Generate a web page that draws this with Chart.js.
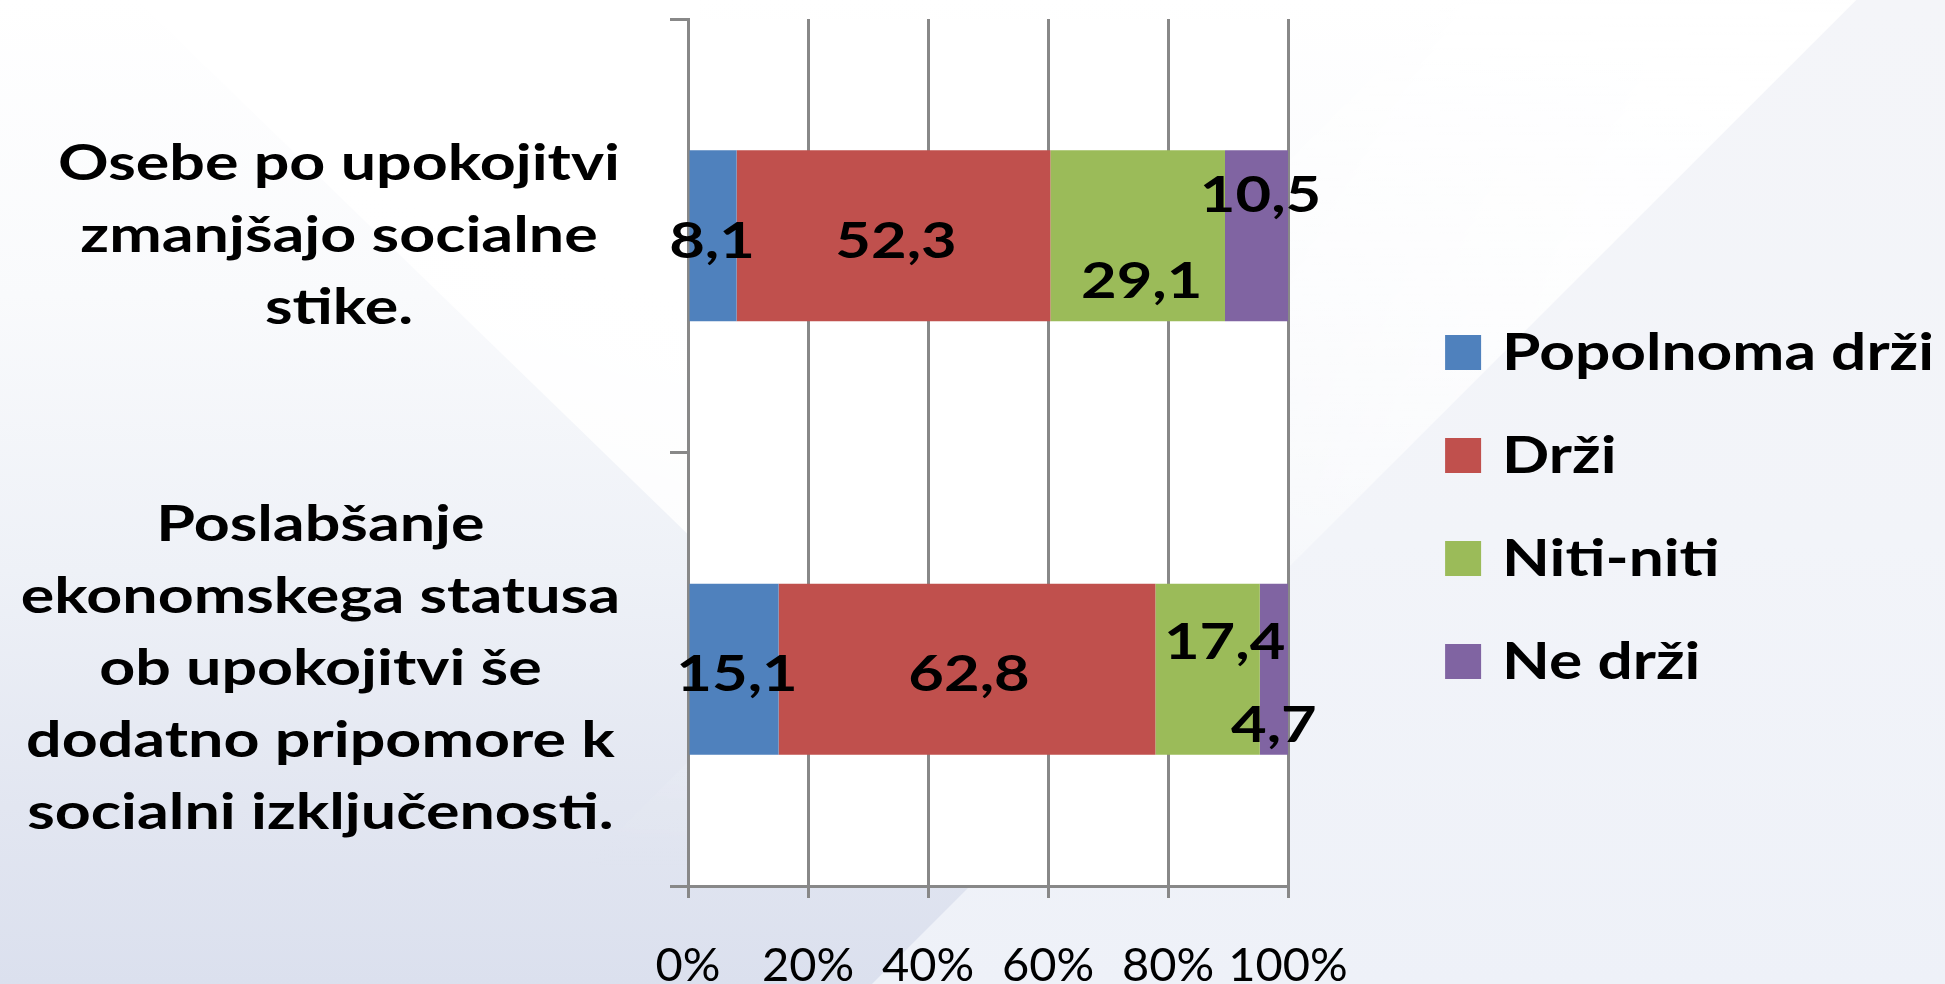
<!DOCTYPE html>
<html>
<head>
<meta charset="utf-8">
<script src="https://cdn.jsdelivr.net/npm/chart.js@4/dist/chart.umd.min.js"></script>
<style>
  html, body { margin: 0; padding: 0; }
  body {
    width: 1945px; height: 984px; overflow: hidden; position: relative;
    background: linear-gradient(180deg, #ffffff 0%, #f9fafc 30%, #eef1f7 58%, #e2e6f1 82%, #dbe0ee 100%);
  }
  .bg { position: absolute; left: 0; top: 0; width: 1945px; height: 984px; }
  .wedgeR {
    clip-path: polygon(1856px 0, 1945px 0, 1945px 984px, 872px 984px);
    background: linear-gradient(180deg, #f4f5f9 0%, #f2f4f9 55%, #eef1f8 100%);
  }
  .bandR {
    clip-path: polygon(1450px 0, 1856px 0, 872px 984px, 466px 984px);
    background: linear-gradient(180deg, rgba(255,255,255,1) 0%, rgba(255,255,255,0.75) 50%, rgba(255,255,255,0) 88%);
    -webkit-mask-image: linear-gradient(135deg, rgba(0,0,0,0) 28%, rgba(0,0,0,1) 72%);
    mask-image: linear-gradient(135deg, rgba(0,0,0,0) 28%, rgba(0,0,0,1) 72%);
  }
  .wedgeL {
    clip-path: polygon(137px 0, 700px 0, 700px 546px);
    background: linear-gradient(200deg, #ffffff 45%, rgba(255,255,255,0.3) 100%);
  }
  canvas { position: absolute; left: 0; top: 0; }
</style>
</head>
<body>
<div class="bg wedgeR"></div>
<div class="bg bandR"></div>
<div class="bg wedgeL"></div>
<canvas id="c" width="1945" height="984"></canvas>
<script>
// ---- data ----
const categories = [
  ["Osebe po upokojitvi", "zmanjšajo socialne", "stike."],
  ["Poslabšanje", "ekonomskega statusa", "ob upokojitvi še", "dodatno pripomore k", "socialni izključenosti."]
];
const seriesNames = ["Popolnoma drži", "Drži", "Niti-niti", "Ne drži"];
const popolnomaDrzi = [8.1, 15.1];
const drzi = [52.3, 62.8];
const nitiNiti = [29.1, 17.4];
const neDrzi = [10.5, 4.7];
const xTickValues = [0, 20, 40, 60, 80, 100];
const seriesColors = ["#4F81BD", "#C0504D", "#9BBB59", "#8064A2"];

// ---- presentation settings ----
const PLOT_RIGHT = 1288;
const AXIS_COLOR = "#888888";
const BOLD_STRETCH = 1.255;   // original text is a horizontally widened Calibri-like bold face
// data label nudges [dx, dy] per series, per category (staggering as in original)
const labelNudges = [
  [[-1, 6.5], [3, 6]],
  [[2.5, 6.5], [2, 6]],
  [[4, 46.5], [17, -26]],
  [[4, -39.5], [0, 57]]
];

const seriesValues = [popolnomaDrzi, drzi, nitiNiti, neDrzi];

function stretchedText(ctx, text, x, y, sx, align) {
  ctx.save();
  ctx.translate(x, y);
  ctx.scale(sx, 1);
  ctx.textAlign = align;
  ctx.fillText(text, 0, 0);
  ctx.restore();
}

const plotBg = {
  id: 'plotBg',
  beforeDraw(chart) {
    const { ctx, chartArea: a } = chart;
    ctx.save();
    ctx.fillStyle = '#ffffff';
    ctx.fillRect(a.left, a.top, a.right - a.left, a.bottom - a.top);
    ctx.restore();
  }
};

const catLabels = {
  id: 'catLabels',
  afterDraw(chart) {
    const ctx = chart.ctx;
    const ys = chart.scales.y;
    const lh = 72;
    ctx.save();
    ctx.font = 'bold 50px Lato';
    ctx.fillStyle = '#000';
    ctx.textBaseline = 'middle';
    const right = ys.right - 68;
    categories.forEach((lines, i) => {
      const cy = ys.getPixelForValue(i);
      const w = Math.max(...lines.map(l => ctx.measureText(l).width)) * BOLD_STRETCH;
      const cx = right - w / 2;
      const y0 = cy - (lines.length - 1) / 2 * lh;
      lines.forEach((l, j) => stretchedText(ctx, l, cx, y0 + j * lh, BOLD_STRETCH, 'center'));
    });
    ctx.restore();
  }
};

const valueLabels = {
  id: 'valueLabels',
  afterDatasetsDraw(chart) {
    const ctx = chart.ctx;
    ctx.save();
    ctx.font = 'bold 49px Lato';
    ctx.fillStyle = '#000';
    ctx.textBaseline = 'middle';
    chart.data.datasets.forEach((ds, k) => {
      const meta = chart.getDatasetMeta(k);
      meta.data.forEach((bar, i) => {
        const p = bar.getProps(['x', 'y', 'base'], true);
        const cx = (p.x + p.base) / 2 + labelNudges[k][i][0];
        const cy = p.y + labelNudges[k][i][1];
        stretchedText(ctx, ds.data[i].toFixed(1).replace('.', ','), cx, cy, BOLD_STRETCH, 'center');
      });
    });
    ctx.restore();
  }
};

// legend texts: the library lays the legend out; the text is drawn widened like the original
const legendText = {
  id: 'legendText',
  afterDraw(chart) {
    const lg = chart.legend;
    if (!lg || !lg.legendHitBoxes) return;
    const ctx = chart.ctx;
    const bw = lg.options.labels.boxWidth;
    ctx.save();
    ctx.font = 'bold 51px Lato';
    ctx.fillStyle = '#000';
    ctx.textBaseline = 'middle';
    lg.legendItems.forEach((item, i) => {
      const hb = lg.legendHitBoxes[i];
      stretchedText(ctx, item.text, hb.left + bw + 21, hb.top + hb.height / 2 + 1, 1.22, 'left');
    });
    ctx.restore();
  }
};

function build() {
  new Chart(document.getElementById('c'), {
    type: 'bar',
    data: {
      labels: categories,
      datasets: seriesNames.map((n, k) => ({
        label: n,
        data: seriesValues[k],
        backgroundColor: seriesColors[k],
        borderWidth: 0,
        barPercentage: 0.3945,
        categoryPercentage: 1
      }))
    },
    options: {
      indexAxis: 'y',
      responsive: false,
      animation: false,
      devicePixelRatio: 1,
      layout: { padding: { top: 19, left: 0, right: 0, bottom: 0 } },
      scales: {
        x: {
          stacked: true, min: 0, max: 100, position: 'bottom',
          afterBuildTicks: s => { s.ticks = xTickValues.map(v => ({ value: v })); },
          ticks: {
            callback: v => v + '%', color: '#000', padding: 40,
            font: { family: 'Lato', size: 47 }, maxRotation: 0, autoSkip: false
          },
          grid: { color: AXIS_COLOR, lineWidth: 3, tickLength: 12 },
          border: { color: AXIS_COLOR, width: 3 },
          afterFit: s => { s.height = 98; }
        },
        y: {
          stacked: true, position: 'left',
          ticks: { display: false },
          grid: { offset: true, drawOnChartArea: false, tickLength: 18, color: AXIS_COLOR, lineWidth: 3 },
          border: { color: AXIS_COLOR, width: 3 },
          afterFit: s => { s.width = 688; }
        },
        gap: {
          type: 'linear', position: 'right', display: true,
          grid: { display: false }, border: { display: false }, ticks: { display: false },
          afterFit: s => {
            const lg = s.chart.legend;
            s.width = Math.max(0, s.chart.width - PLOT_RIGHT - (lg ? lg.width : 0));
          }
        }
      },
      plugins: {
        legend: {
          position: 'right', maxWidth: 700,
          title: { display: true, text: ' ', color: 'rgba(0,0,0,0)', font: { size: 5 }, padding: { top: 2.5, bottom: 2.5 } },
          labels: {
            boxWidth: 36, boxHeight: 35, padding: 54, color: 'rgba(0,0,0,0)',
            font: { family: 'DejaVu Sans', size: 49, weight: 'bold' }
          }
        },
        tooltip: { enabled: false }
      }
    },
    plugins: [plotBg, valueLabels, catLabels, legendText]
  });
}

const fontsReady = document.fonts && document.fonts.load
  ? Promise.all([document.fonts.load('bold 50px Lato'), document.fonts.load('47px Lato'), document.fonts.load('bold 49px "DejaVu Sans"')]).catch(() => {})
  : Promise.resolve();
fontsReady.then(build);
</script>
</body>
</html>
